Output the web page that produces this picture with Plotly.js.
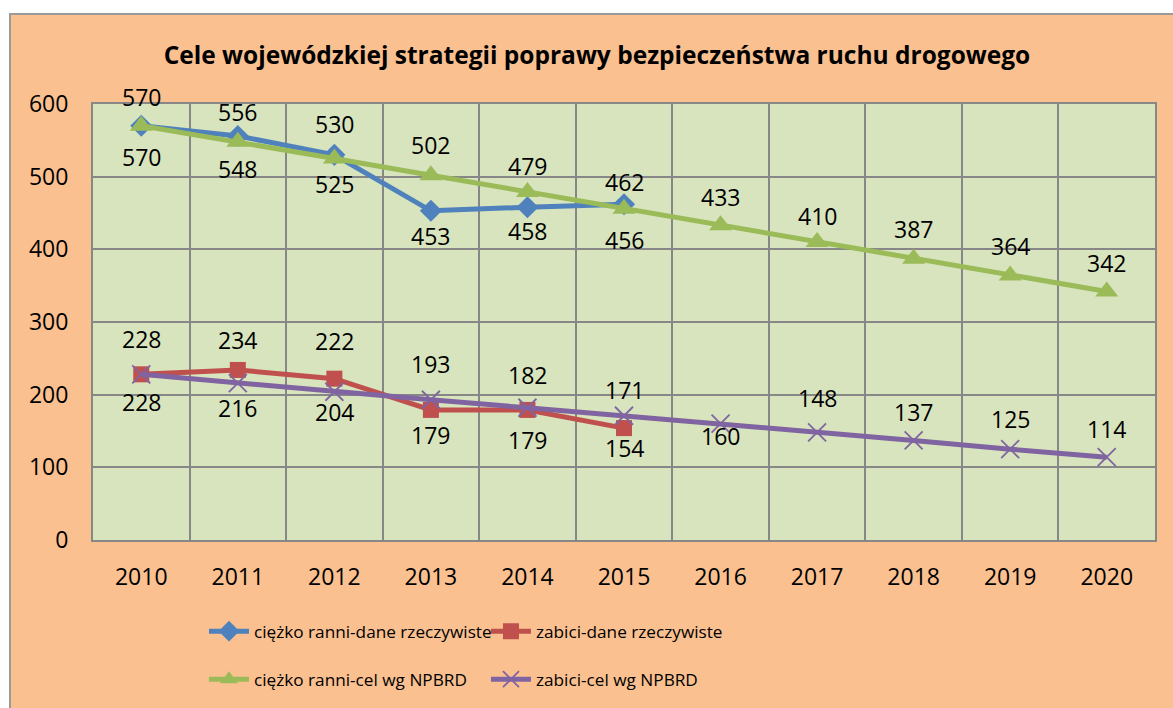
<!DOCTYPE html>
<html>
<head>
<meta charset="utf-8">
<script src="https://cdn.plot.ly/plotly-3.0.1.min.js"></script>
<style>
  html, body { margin: 0; padding: 0; background: #ffffff; overflow: hidden; width: 1173px; height: 708px; }
  #frame { position: absolute; left: 9px; top: 13px; width: 1200px; height: 720px;
           border-left: 2px solid #9a9a9a; border-top: 2px solid #9a9a9a; background: #FAC090; }
  #chart { width: 1162px; height: 693px; }
</style>
</head>
<body>
<div id="frame"><div id="chart"></div></div>
<script>
// ---- data ----
const years = ['2010','2011','2012','2013','2014','2015','2016','2017','2018','2019','2020'];
const yearsActual = ['2010','2011','2012','2013','2014','2015'];
const ranniActual = [570, 556, 530, 453, 458, 462];
const zabiciActual = [228, 234, 222, 179, 179, 154];
const ranniTarget = [570, 548, 525, 502, 479, 456, 433, 410, 387, 364, 342];
const zabiciTarget = [228, 216, 204, 193, 182, 171, 160, 148, 137, 125, 114];
const names = ['ciężko ranni-dane rzeczywiste', 'zabici-dane rzeczywiste',
               'ciężko ranni-cel wg NPBRD', 'zabici-cel wg NPBRD'];
const titleText = 'Cele wojewódzkiej strategii poprawy bezpieczeństwa ruchu drogowego';

// data-label pixel offsets (style only): + above the point, - below
const shiftRanniActual = [29, 24, 31, -25, -24, 22];
const shiftZabiciActual = [35, 30, 38, -25, -30, -20];
const shiftRanniTarget = [-31, -27, -25, 30, 26, -31, 28, 26, 30, 29, 28];
const shiftZabiciTarget = [-28, -25, -20, 36, 33, 26, -12, 34, 28, 30, 28];

const FONT = 'Open Sans, Noto Sans, sans-serif';
const colors = ['#4F81BD', '#C0504D', '#9BBB59', '#8064A2'];

const traces = [
  { x: yearsActual, y: ranniActual, name: names[0], mode: 'lines+markers', legend: 'legend',
    line: { color: colors[0], width: 5 }, marker: { symbol: 'diamond', size: 17, color: colors[0] } },
  { x: yearsActual, y: zabiciActual, name: names[1], mode: 'lines+markers', legend: 'legend',
    line: { color: colors[1], width: 5 }, marker: { symbol: 'square', size: 16, color: colors[1] } },
  { x: years, y: ranniTarget, name: names[2], mode: 'lines+markers', legend: 'legend2',
    line: { color: colors[2], width: 5 }, marker: { symbol: 'triangle-up', size: 20, color: colors[2] } },
  { x: years, y: zabiciTarget, name: names[3], mode: 'lines+markers', legend: 'legend2',
    line: { color: colors[3], width: 5 }, marker: { symbol: 'x-thin-open', size: 18, color: colors[3], line: { color: colors[3], width: 1.8 } } }
];

const annotations = [];
function addLabels(xs, ys, shifts) {
  xs.forEach((x, i) => {
    annotations.push({ x: years.indexOf(x), y: ys[i], xref: 'x', yref: 'y', text: String(ys[i]), showarrow: false,
      xanchor: 'center', yanchor: 'middle',
      yshift: shifts[i], font: { family: FONT, size: 23, color: '#000' } });
  });
}
addLabels(yearsActual, ranniActual, shiftRanniActual);
addLabels(yearsActual, zabiciActual, shiftZabiciActual);
addLabels(years, ranniTarget, shiftRanniTarget);
addLabels(years, zabiciTarget, shiftZabiciTarget);

const legendCommon = { orientation: 'h', x: 0.1045, xanchor: 'left', yanchor: 'middle',
  bgcolor: 'rgba(0,0,0,0)', entrywidth: 227, entrywidthmode: 'pixels', itemwidth: 40,
  font: { family: FONT, size: 17.2, color: '#000' }, tracegroupgap: 0 };

const layout = {
  width: 1162, height: 693,
  paper_bgcolor: '#FAC090', plot_bgcolor: '#D7E4BD',
  margin: { l: 82, r: 18, t: 89, b: 167, pad: 0 },
  title: { text: '<b>' + titleText + '</b>', x: (597 - 11) / 1162, xref: 'container', xanchor: 'center',
           y: 1 - 40/693, yanchor: 'middle', font: { family: FONT, size: 24.5, color: '#000' } },
  font: { family: FONT, color: '#000' },
  xaxis: { type: 'category', range: [-0.5, 10.5], tickson: 'boundaries', showgrid: true, gridcolor: '#878787', gridwidth: 2,
           showline: true, mirror: true, linecolor: '#878787', linewidth: 2, ticks: '', tickangle: 0,
           tickfont: { family: FONT, size: 23, color: '#000' }, ticklabelstandoff: 15, zeroline: false },
  yaxis: { range: [0, 600], dtick: 100, showgrid: true, gridcolor: '#878787', gridwidth: 2,
           showline: true, mirror: true, linecolor: '#878787', linewidth: 2, ticks: '', zeroline: false,
           tickfont: { family: FONT, size: 23, color: '#000' }, ticklabelstandoff: 18 },
  annotations: annotations,
  showlegend: true,
  legend: Object.assign({}, legendCommon, { y: -(632 - 541.5) / 437 }),
  legend2: Object.assign({}, legendCommon, { y: -(680 - 541.5) / 437 })
};

Plotly.newPlot('chart', traces, layout, { displayModeBar: false, staticPlot: true });
</script>
</body>
</html>
